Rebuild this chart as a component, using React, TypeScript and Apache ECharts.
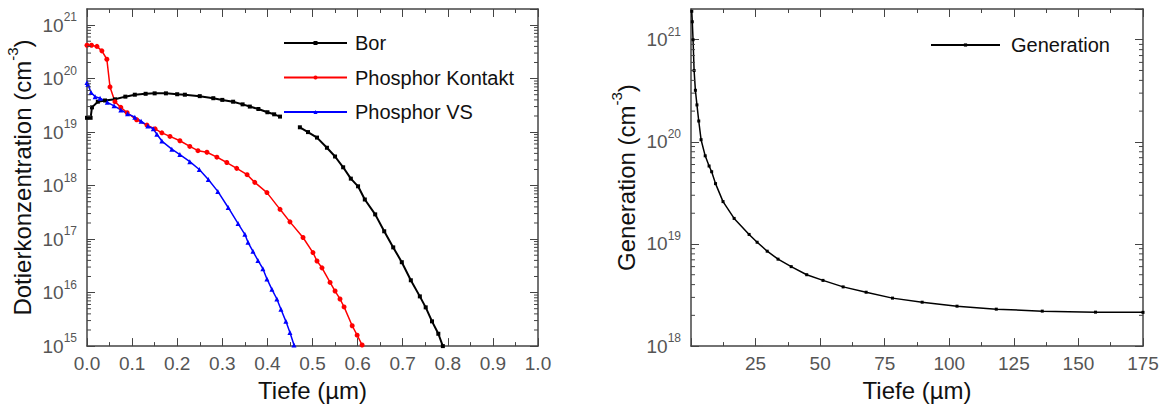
import React, { useEffect, useRef } from 'react';
import * as echarts from 'echarts';

// ---------- Data (left chart: doping profiles) ----------
const borX = [0, 0.008, 0.011, 0.024, 0.04, 0.062, 0.085, 0.106, 0.13, 0.15, 0.175, 0.2, 0.217, 0.25, 0.28, 0.3, 0.324, 0.345, 0.361, 0.38, 0.4, 0.415, 0.428, 0.45, 0.472, 0.49, 0.51, 0.532, 0.55, 0.568, 0.585, 0.601, 0.616, 0.639, 0.659, 0.679, 0.698, 0.718, 0.738, 0.751, 0.765, 0.779, 0.789];
const borY = [1.85e19, 1.85e19, 2.9e19, 3.7e19, 3.9e19, 4.1e19, 4.6e19, 5.0e19, 5.2e19, 5.3e19, 5.3e19, 5.1e19, 5.0e19, 4.7e19, 4.3e19, 4.0e19, 3.7e19, 3.3e19, 3.0e19, 2.7e19, 2.35e19, 2.15e19, 1.95e19, null, 1.23e19, 1.0e19, 7.9e18, 5.1e18, 3.5e18, 2.2e18, 1.35e18, 9.7e17, 5.5e17, 2.9e17, 1.4e17, 7e16, 3.7e16, 1.7e16, 8.5e15, 5.3e15, 2.9e15, 1.7e15, 1.0e15];

const kontaktX = [0, 0.01, 0.022, 0.033, 0.044, 0.051, 0.062, 0.075, 0.089, 0.11, 0.133, 0.151, 0.166, 0.184, 0.206, 0.228, 0.246, 0.266, 0.288, 0.31, 0.332, 0.355, 0.372, 0.399, 0.428, 0.45, 0.479, 0.501, 0.51, 0.521, 0.539, 0.55, 0.561, 0.57, 0.588, 0.599, 0.61];
const kontaktY = [4.2e20, 4.2e20, 4.0e20, 3.3e20, 2.3e20, 7e19, 3.7e19, 2.9e19, 2.3e19, 1.7e19, 1.35e19, 1.15e19, 9.7e18, 8.3e18, 6.9e18, 5.4e18, 4.5e18, 4.2e18, 3.4e18, 2.7e18, 2.1e18, 1.6e18, 1.15e18, 7.4e17, 3.6e17, 2.1e17, 1.07e17, 5.6e16, 3.9e16, 2.9e16, 1.55e16, 1.07e16, 7.6e15, 5.4e15, 2.4e15, 1.6e15, 1.05e15];

const vsX = [0, 0.002, 0.009, 0.018, 0.029, 0.045, 0.06, 0.075, 0.09, 0.106, 0.12, 0.135, 0.147, 0.155, 0.166, 0.188, 0.206, 0.228, 0.249, 0.269, 0.29, 0.313, 0.335, 0.35, 0.357, 0.368, 0.379, 0.39, 0.399, 0.41, 0.421, 0.43, 0.441, 0.45, 0.459];
const vsY = [8.5e19, 7.8e19, 5.5e19, 4.6e19, 4.3e19, 3.6e19, 3.1e19, 2.6e19, 2.2e19, 1.9e19, 1.6e19, 1.3e19, 1.15e19, 9.1e18, 6.8e18, 4.8e18, 3.8e18, 2.8e18, 2.0e18, 1.3e18, 7.8e17, 3.9e17, 1.95e17, 1.23e17, 8.7e16, 5.9e16, 4e16, 2.8e16, 1.8e16, 1.15e16, 7.6e15, 4.9e15, 2.9e15, 1.8e15, 1.05e15];

// ---------- Data (right chart: generation) ----------
const genX = [0.3, 0.5, 0.8, 1.2, 1.7, 2.3, 3.0, 3.9, 5.5, 7.0, 8.0, 9.5, 12.4, 16.7, 22.5, 25.6, 29.5, 33.7, 38.8, 44.8, 51.1, 58.9, 67.8, 78, 89.5, 103, 118.2, 136, 156.6, 175];
const genY = [1.9e21, 1.5e21, 1.0e21, 5.0e20, 3.2e20, 2.3e20, 1.6e20, 1.05e20, 7.3e19, 5.8e19, 5.1e19, 3.9e19, 2.6e19, 1.78e19, 1.24e19, 1.04e19, 8.5e18, 7.1e18, 6.0e18, 5.0e18, 4.4e18, 3.8e18, 3.37e18, 2.95e18, 2.69e18, 2.46e18, 2.3e18, 2.2e18, 2.15e18, 2.14e18];

// ---------- Axis ticks ----------
const leftDecades = [15, 16, 17, 18, 19, 20, 21];
const rightDecades = [18, 19, 20, 21];
const minorMultipliers = [2, 3, 4, 5, 6, 7, 8, 9];
const leftYMin = 1e15;
const leftYMax = 2e21;
const rightYMin = 1e18;
const rightYMax = 2e21;

const FONT = 'Liberation Sans';
const AXIS_COLOR = '#444';
const LABEL_COLOR = '#555';
const TITLE_COLOR = '#111';

const zip = (xs: number[], ys: (number | null)[]) => xs.map((x, i) => [x, ys[i]]);

const minorValues = (decades: number[], max: number) => {
  const out: number[][] = [];
  decades.forEach((e) => {
    minorMultipliers.forEach((m) => {
      const v = m * Math.pow(10, e);
      if (v < max) out.push([0, v]);
    });
  });
  return out;
};

const supRich = {
  b: { fontSize: 19, color: LABEL_COLOR, fontFamily: FONT },
  s: { fontSize: 12, color: LABEL_COLOR, fontFamily: FONT, padding: [0, 0, 16, 0] },
};

const titleRich = {
  t: { fontSize: 24, color: TITLE_COLOR, fontFamily: FONT },
  s: { fontSize: 15, color: TITLE_COLOR, fontFamily: FONT, padding: [0, 0, 20, 0] },
};

const logLabel = (v: number) => {
  const l = Math.log10(v);
  const e = Math.round(l);
  if (Math.abs(l - e) > 1e-6) return '';
  return `{b|10}{s|${e}}`;
};

const axisLine = { show: true, onZero: false, lineStyle: { color: AXIS_COLOR, width: 1.5 } };

const minorTickSeries = (xi: number, yi: number, data: number[][]) => ({
  type: 'custom',
  xAxisIndex: xi,
  yAxisIndex: yi,
  silent: true,
  z: 10,
  data,
  encode: { x: 0, y: 1 },
  renderItem: (params: any, api: any) => {
    const cs = params.coordSys;
    const y = api.coord([api.value(0), api.value(1)])[1];
    const st = { stroke: AXIS_COLOR, lineWidth: 1 };
    return {
      type: 'group',
      children: [
        { type: 'line', shape: { x1: cs.x, y1: y, x2: cs.x + 4, y2: y }, style: st },
        { type: 'line', shape: { x1: cs.x + cs.width, y1: y, x2: cs.x + cs.width - 4, y2: y }, style: st },
      ],
    };
  },
});

export default function App() {
  const ref = useRef<HTMLDivElement>(null);

  useEffect(() => {
    if (!ref.current) return;
    const chart = echarts.init(ref.current, null, { renderer: 'svg' });

    const xBottom = (gi: number, min: number, max: number, interval: number, fmt: (v: number) => string, name: string) => ({
      type: 'value',
      gridIndex: gi,
      position: 'bottom',
      min,
      max,
      interval,
      name,
      nameLocation: 'middle',
      nameGap: 27,
      nameTextStyle: { fontSize: 24, color: TITLE_COLOR, fontFamily: FONT },
      axisLine,
      axisTick: { show: true, inside: true, length: 8, lineStyle: { color: AXIS_COLOR, width: 1 } },
      minorTick: { show: true, splitNumber: 2, length: 4, lineStyle: { color: AXIS_COLOR, width: 1 } },
      axisLabel: { show: true, margin: 8, fontSize: 19, color: LABEL_COLOR, fontFamily: FONT, formatter: fmt },
      splitLine: { show: false },
      minorSplitLine: { show: false },
    });
    const xTop = (gi: number, min: number, max: number, interval: number) => ({
      type: 'value',
      gridIndex: gi,
      position: 'top',
      min,
      max,
      interval,
      axisLine,
      axisTick: { show: true, inside: true, length: 8, lineStyle: { color: AXIS_COLOR, width: 1 } },
      minorTick: { show: true, splitNumber: 2, length: 4, lineStyle: { color: AXIS_COLOR, width: 1 } },
      axisLabel: { show: false },
      splitLine: { show: false },
    });
    const yLeft = (gi: number, min: number, max: number, name: string) => ({
      type: 'log',
      logBase: 10,
      gridIndex: gi,
      position: 'left',
      min,
      max,
      name,
      nameLocation: 'middle',
      nameRotate: 90,
      nameGap: 47,
      nameTextStyle: { rich: titleRich },
      axisLine,
      axisTick: { show: true, inside: true, length: 8, lineStyle: { color: AXIS_COLOR, width: 1 } },
      axisLabel: { show: true, margin: 10, formatter: logLabel, rich: supRich, showMaxLabel: false },
      splitLine: { show: false },
    });
    const yRight = (gi: number, min: number, max: number) => ({
      type: 'log',
      logBase: 10,
      gridIndex: gi,
      position: 'right',
      min,
      max,
      axisLine,
      axisTick: { show: true, inside: true, length: 8, lineStyle: { color: AXIS_COLOR, width: 1 } },
      axisLabel: { show: false },
      splitLine: { show: false },
    });

    const lineSeries = (name: string, xi: number, yi: number, data: any[], color: string, symbol: string, size: number, width: number) => ({
      name,
      type: 'line',
      xAxisIndex: xi,
      yAxisIndex: yi,
      data,
      symbol,
      symbolSize: size,
      showSymbol: true,
      connectNulls: false,
      lineStyle: { color, width },
      itemStyle: { color },
      z: 5,
    });

    chart.setOption({
      animation: false,
      backgroundColor: '#fff',
      textStyle: { fontFamily: FONT },
      grid: [
        { left: 87, top: 9, width: 451, height: 338, containLabel: false },
        { left: 691, top: 9, width: 452, height: 338, containLabel: false },
      ],
      xAxis: [
        xBottom(0, 0, 1, 0.1, (v: number) => v.toFixed(1), 'Tiefe (µm)'),
        xTop(0, 0, 1, 0.1),
        xBottom(1, 0, 175, 25, (v: number) => (v === 0 ? '' : String(v)), 'Tiefe (µm)'),
        xTop(1, 0, 175, 25),
      ],
      yAxis: [
        yLeft(0, leftYMin, leftYMax, '{t|Dotierkonzentration (cm}{s|-3}{t|)}'),
        yRight(0, leftYMin, leftYMax),
        yLeft(1, rightYMin, rightYMax, '{t|Generation (cm}{s|-3}{t|)}'),
        yRight(1, rightYMin, rightYMax),
      ],
      legend: [
        {
          orient: 'vertical',
          left: 283,
          top: 33,
          padding: 0,
          itemWidth: 63,
          itemHeight: 5,
          itemGap: 14.5,
          data: ['Bor', 'Phosphor Kontakt', 'Phosphor VS'],
          textStyle: { fontSize: 20, color: TITLE_COLOR, fontFamily: FONT, lineHeight: 20, padding: [0, 0, 0, 3] },
        },
        {
          orient: 'vertical',
          left: 930,
          top: 35,
          padding: 0,
          itemWidth: 69,
          itemHeight: 4,
          data: ['Generation'],
          textStyle: { fontSize: 20, color: TITLE_COLOR, fontFamily: FONT, lineHeight: 20, padding: [0, 0, 0, 6] },
        },
      ],
      series: [
        lineSeries('Bor', 0, 0, zip(borX, borY), '#000000', 'rect', 4, 2),
        lineSeries('Phosphor Kontakt', 0, 0, zip(kontaktX, kontaktY), '#ff0000', 'circle', 5, 1.5),
        lineSeries('Phosphor VS', 0, 0, zip(vsX, vsY), '#0000ff', 'triangle', 5, 1.5),
        lineSeries('Generation', 2, 2, zip(genX, genY), '#000000', 'rect', 3, 1.5),
        minorTickSeries(0, 0, minorValues(leftDecades, leftYMax)),
        minorTickSeries(2, 2, minorValues(rightDecades, rightYMax)),
      ],
    });

    return () => chart.dispose();
  }, []);

  return (
    <div
      ref={ref}
      style={{ position: 'fixed', left: 0, top: 0, width: 1162, height: 407, background: '#fff' }}
    />
  );
}
